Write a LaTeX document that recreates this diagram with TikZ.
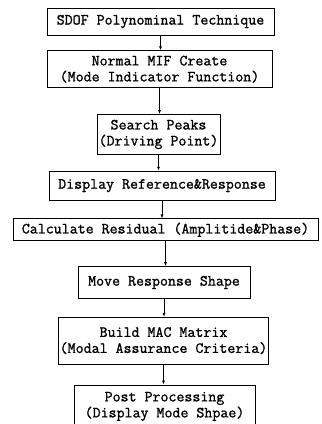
\documentclass[tikz,border=0pt]{standalone}
\usepackage{fontspec}
\newfontfamily\flowfont[FakeBold=1.2]{Latin Modern Mono}
\usetikzlibrary{arrows.meta,positioning}

\begin{document}
\begin{tikzpicture}[
  x=1pt, y=1pt,
  every node/.style={font=\flowfont\fontsize{15.5}{16}\selectfont},
  box/.style={draw, line width=0.7pt, align=center, inner sep=1pt},
  >={Latex[length=4pt,width=3pt]}, line width=0.7pt
]
\useasboundingbox (0,0) rectangle (322,-424);
\node[box, minimum width=227pt, minimum height=27pt] (sdof) at (160.5,-21.5) {SDOF Polynominal Technique};
\node[box, minimum width=225pt, minimum height=37pt, below=15pt of sdof, xshift=-1pt] (mif) {Normal MIF Create\\(Mode Indicator Function)};
\node[box, minimum width=123pt, minimum height=40pt, below=26pt of mif, xshift=-1pt] (peaks) {Search Peaks\\(Driving Point)};
\node[box, minimum width=226pt, minimum height=29pt, below=16pt of peaks, xshift=3.5pt] (disp) {Display Reference\&Response};
\node[box, minimum width=305pt, minimum height=22pt, below=18pt of disp, xshift=3.5pt] (resid) {Calculate Residual (Amplitide\&Phase)};
\node[box, minimum width=172pt, minimum height=32pt, below=25pt of resid, xshift=-1.5pt] (move) {Move Response Shape};
\node[box, minimum width=209pt, minimum height=47pt, below=18pt of move, xshift=-0.5pt] (mac) {Build MAC Matrix\\(Modal Assurance Criteria)};
\node[box, minimum width=181pt, minimum height=43pt, below=20pt of mac, xshift=1pt] (post) {Post Processing\\(Display Mode Shpae)};

\foreach \a/\b in {sdof/mif, mif/peaks, peaks/disp, disp/resid, resid/move, move/mac, mac/post}
  \draw[->] (\a.south) -- (\a.south |- \b.north);
\end{tikzpicture}
\end{document}
